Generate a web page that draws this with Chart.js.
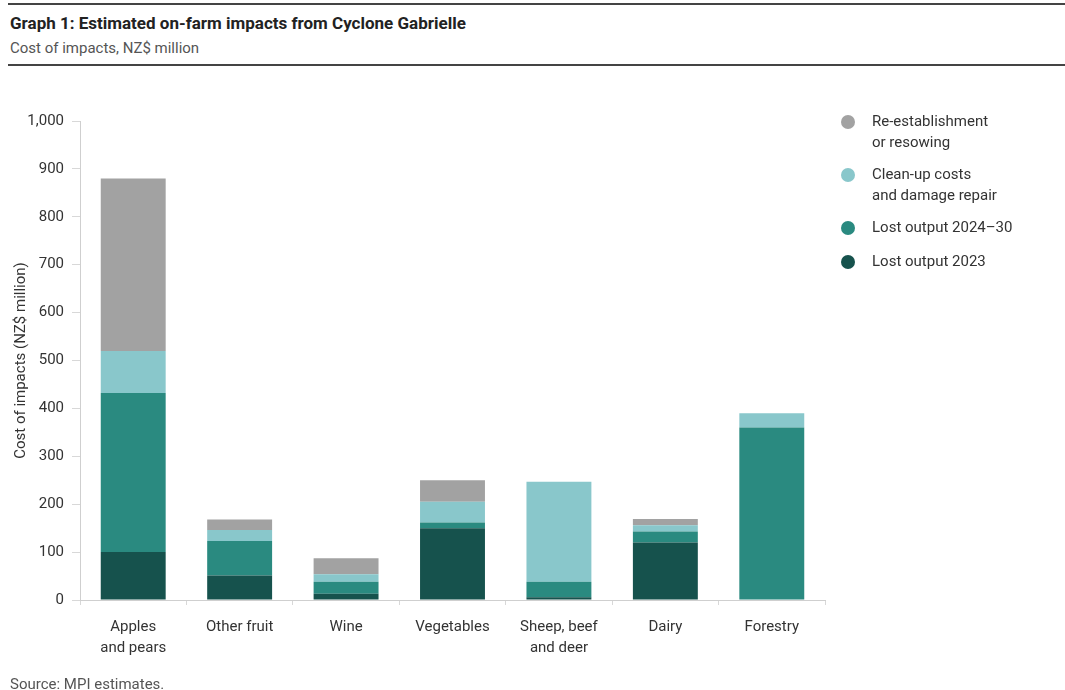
<!DOCTYPE html>
<html>
<head>
<meta charset="utf-8">
<script src="https://cdn.jsdelivr.net/npm/chart.js@4"></script>
<style>
  html, body { margin: 0; padding: 0; background: #fff; }
  body { width: 1065px; height: 690px; position: relative; overflow: hidden; font-family: Roboto, sans-serif; color: #333; }
  .rule { position: absolute; left: 8px; right: 0; height: 2px; background: #444; }
  #title { position: absolute; left: 10px; top: 13px; font-size: 17px; font-weight: bold; color: #222; }
  #subtitle { position: absolute; left: 10px; top: 39px; font-size: 15px; color: #555; }
  #chartBox { position: absolute; left: 0; top: 70px; width: 840px; height: 620px; }
  #legend { position: absolute; left: 838px; top: 111px; margin: 0; padding: 0; list-style: none; }
  #legend li { position: relative; padding-left: 34px; font-size: 15px; line-height: 21px; white-space: pre-line; margin-bottom: 11px; color: #333; }
  #legend li.single { margin-bottom: 13px; }
  #legend .dot { position: absolute; left: 3px; top: 4px; width: 14px; height: 14px; border-radius: 50%; }
  #source { position: absolute; left: 10px; top: 675px; font-size: 15px; color: #555; }
</style>
</head>
<body>
<div class="rule" style="top:3px"></div>
<div id="title">Graph 1: Estimated on-farm impacts from Cyclone Gabrielle</div>
<div id="subtitle">Cost of impacts, NZ$ million</div>
<div class="rule" style="top:64px; height:2px"></div>

<div id="chartBox"><canvas id="impactChart"></canvas></div>
<ul id="legend"></ul>
<div id="source">Source: MPI estimates.</div>

<script>
// Sectors along the x axis
const SECTORS = [
    ['Apples', 'and pears'],
    'Other fruit',
    'Wine',
    'Vegetables',
    ['Sheep, beef', 'and deer'],
    'Dairy',
    'Forestry'
];

// Cost components, NZ$ million (stacked bottom to top)
const LOST_2023       = [100, 51, 13, 150, 6, 120, 0];
const LOST_2024_30    = [332, 72, 25, 12, 32, 23, 360];
const CLEAN_UP        = [88, 23, 16, 43, 209, 13, 30];
const RE_ESTABLISH    = [360, 22, 33, 45, 0, 13, 0];

const SERIES_LABELS = ['Lost output 2023', 'Lost output 2024\u201330', 'Clean-up costs\nand damage repair', 'Re-establishment\nor resowing'];
const SERIES_COLORS = ['#16524d', '#2a8a80', '#89c7cb', '#a2a2a2'];

const Y_TICKS = [0, 100, 200, 300, 400, 500, 600, 700, 800, 900, 1000];

const FONT = 'Roboto, sans-serif';

const series = [LOST_2023, LOST_2024_30, CLEAN_UP, RE_ESTABLISH];

const chart = new Chart(document.getElementById('impactChart'), {
    type: 'bar',
    data: {
        labels: SECTORS,
        datasets: series.map((values, i) => ({
            label: SERIES_LABELS[i],
            data: values,
            backgroundColor: SERIES_COLORS[i],
            borderWidth: 0,
            categoryPercentage: 1,
            barPercentage: 0.61
        }))
    },
    options: {
        responsive: true,
        maintainAspectRatio: false,
        animation: false,
        layout: { padding: { top: 51, right: 15, left: 0, bottom: 0 } },
        plugins: {
            legend: { display: false },
            tooltip: { enabled: true }
        },
        scales: {
            x: {
                stacked: true,
                grid: { display: true, drawOnChartArea: false, drawTicks: true, tickLength: 5, color: '#d8d8d8' },
                border: { display: true, color: '#cfcfcf', width: 1 },
                ticks: { color: '#333', font: { family: FONT, size: 15, lineHeight: 1.4 }, padding: 12, maxRotation: 0 },
                afterFit: s => { s.height = 90; }
            },
            y: {
                stacked: true,
                min: 0,
                max: 1000,
                afterBuildTicks: s => { s.ticks = Y_TICKS.map(v => ({ value: v })); },
                grid: { display: true, drawOnChartArea: false, drawTicks: true, tickLength: 8, color: '#d8d8d8' },
                border: { display: true, color: '#cfcfcf', width: 1 },
                ticks: {
                    color: '#333',
                    font: { family: FONT, size: 15 },
                    padding: 8,
                    callback: v => v.toLocaleString('en-US')
                },
                title: {
                    display: true,
                    text: 'Cost of impacts (NZ$ million)',
                    color: '#333',
                    font: { family: FONT, size: 15 },
                    padding: { top: 12, bottom: 0 }
                },
                afterFit: s => { s.width = 80; }
            }
        }
    }
});

// Legend: top stack segment first, with a dot per series
const legendEl = document.getElementById('legend');
chart.data.datasets.slice().reverse().forEach(ds => {
    const li = document.createElement('li');
    if (!ds.label.includes('\n')) li.className = 'single';
    const dot = document.createElement('span');
    dot.className = 'dot';
    dot.style.background = ds.backgroundColor;
    li.appendChild(dot);
    li.appendChild(document.createTextNode(ds.label));
    legendEl.appendChild(li);
});
</script>
</body>
</html>
